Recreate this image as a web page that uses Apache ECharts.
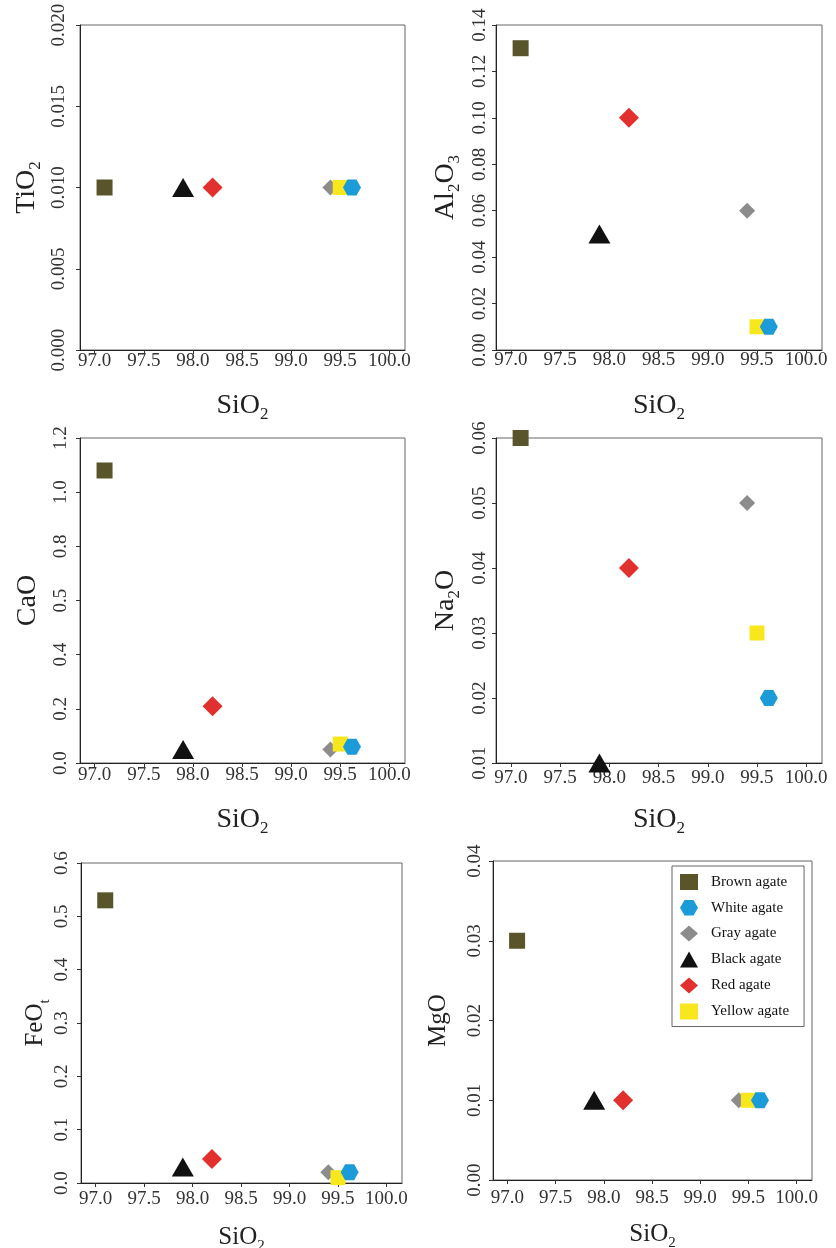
<!DOCTYPE html>
<html>
<head>
<meta charset="utf-8">
<title>Agate major oxides vs SiO2</title>
<script src="https://cdn.jsdelivr.net/npm/echarts@6/dist/echarts.min.js"></script>
<style>
	html, body { margin: 0; padding: 0; background: #fff; }
	#main { width: 836px; height: 1248px; }
</style>
</head>
<body>
<div id="main"></div>
<script>
// samples, same order as the legend
const agates = ['Brown agate', 'White agate', 'Gray agate', 'Black agate', 'Red agate', 'Yellow agate']
const sio2  = [97.1, 99.62, 99.4, 97.9, 98.2, 99.5]
const tio2  = [0.01, 0.01, 0.01, 0.01, 0.01, 0.01]
const al2o3 = [0.13, 0.01, 0.06, 0.05, 0.10, 0.01]
const cao   = [1.08, 0.06, 0.05, 0.05, 0.21, 0.07]
const na2o  = [0.06, 0.02, 0.05, 0.01, 0.04, 0.03]
const feot  = [0.53, 0.02, 0.02, 0.03, 0.045, 0.01]
const mgo   = [0.03, 0.01, 0.01, 0.01, 0.01, 0.01]

// tick values and the labels printed on them
const sio2Ticks   = [97.0, 97.5, 98.0, 98.5, 99.0, 99.5, 100.0]
const tio2Ticks   = [0, 0.005, 0.01, 0.015, 0.02]
const tio2Labels  = ['0.000', '0.005', '0.010', '0.015', '0.020']
const al2o3Ticks  = [0, 0.02, 0.04, 0.06, 0.08, 0.10, 0.12, 0.14]
const al2o3Labels = ['0.00', '0.02', '0.04', '0.06', '0.08', '0.10', '0.12', '0.14']
const caoTicks    = [0, 0.2, 0.4, 0.6, 0.8, 1.0, 1.2]
const caoLabels   = ['0.0', '0.2', '0.4', '0.5', '0.8', '1.0', '1.2'] // "0.5" as printed in the figure
const na2oTicks   = [0.01, 0.02, 0.03, 0.04, 0.05, 0.06]
const na2oLabels  = ['0.01', '0.02', '0.03', '0.04', '0.05', '0.06']
const feotTicks   = [0, 0.1, 0.2, 0.3, 0.4, 0.5, 0.6]
const feotLabels  = ['0.0', '0.1', '0.2', '0.3', '0.4', '0.5', '0.6']
const mgoTicks    = [0, 0.01, 0.02, 0.03, 0.04]
const mgoLabels   = ['0.00', '0.01', '0.02', '0.03', '0.04']

// marker style per sample
const hexagon = 'path://M0,5 L2.9,0 L8.7,0 L11.6,5 L8.7,10 L2.9,10 Z'
const colors  = ['#59542a', '#1b9bd7', '#8c8c8c', '#111111', '#e2302e', '#f8e71c']
const symbols = ['rect', hexagon, 'diamond', 'triangle', 'diamond', 'rect']
const sizes   = [[16, 16], [18, 16], [16, 16], [22, 19], [20, 20], [15, 15]]
const zs      = [2, 6, 3, 2, 2, 4]

const FONT = '"Liberation Serif", "DejaVu Serif", serif'

const panels = [
	{ name: 'TiO{s|2}', vals: tio2, ticks: tio2Ticks, labels: tio2Labels, min: 0, max: 0.02,
	  grid: [80, 25, 325, 325], yMargin: 11, xMargin: 2, nameSize: 28, yGap: 36, xGap: 39 },
	{ name: 'Al{s|2}O{s|3}', vals: al2o3, ticks: al2o3Ticks, labels: al2o3Labels, min: 0, max: 0.14,
	  grid: [496, 25, 326, 325], yMargin: 6, xMargin: 1, nameSize: 28, yGap: 33, xGap: 39 },
	{ name: 'CaO', vals: cao, ticks: caoTicks, labels: caoLabels, min: 0, max: 1.2,
	  grid: [80, 438, 325, 325], yMargin: 9, xMargin: 3, nameSize: 28, yGap: 35, xGap: 40 },
	{ name: 'Na{s|2}O', vals: na2o, ticks: na2oTicks, labels: na2oLabels, min: 0.01, max: 0.06,
	  grid: [496, 438, 326, 325], yMargin: 6, xMargin: 6, nameSize: 28, yGap: 33, xGap: 40 },
	{ name: 'FeO{s|t}', vals: feot, ticks: feotTicks, labels: feotLabels, min: 0, max: 0.6,
	  grid: [81, 863, 321, 320], yMargin: 9, xMargin: 7, nameSize: 25, yGap: 25, xGap: 37 },
	{ name: 'MgO', vals: mgo, ticks: mgoTicks, labels: mgoLabels, min: 0, max: 0.04,
	  grid: [493, 861, 319, 319], yMargin: 8, xMargin: 9, nameSize: 25, yGap: 38, xGap: 37 }
]

function nameStyle(size) {
	return {
		fontFamily: FONT, fontSize: size, color: '#222', lineHeight: 34,
		rich: { s: { fontFamily: FONT, fontSize: Math.round(size * 0.6), color: '#222', verticalAlign: 'bottom' } }
	}
}

let grid = [], xAxis = [], yAxis = [], series = []

panels.forEach((p, k) => {
	grid.push({
		left: p.grid[0], top: p.grid[1], width: p.grid[2], height: p.grid[3],
		outerBoundsMode: 'none', containLabel: false,
		show: true, borderColor: '#666', borderWidth: 1
	})
	xAxis.push({
		gridIndex: k, type: 'value', min: 96.85, max: 100.16,
		name: 'SiO{s|2}', nameLocation: 'middle', nameGap: p.xGap,
		nameTextStyle: nameStyle(p.nameSize),
		axisLine: { lineStyle: { color: '#222', width: 1 } },
		axisTick: { length: 4, customValues: sio2Ticks, lineStyle: { color: '#333' } },
		axisLabel: {
			customValues: sio2Ticks, margin: p.xMargin,
			fontFamily: FONT, fontSize: 19, color: '#333',
			formatter: v => v.toFixed(1)
		},
		splitLine: { show: false }
	})
	yAxis.push({
		gridIndex: k, type: 'value', min: p.min, max: p.max,
		name: p.name, nameLocation: 'middle', nameGap: p.yGap,
		nameTextStyle: nameStyle(p.nameSize),
		axisLine: { show: true, lineStyle: { color: '#222', width: 1 } },
		axisTick: { show: true, length: 4, customValues: p.ticks, lineStyle: { color: '#333' } },
		axisLabel: {
			customValues: p.ticks, rotate: 90, margin: p.yMargin,
			fontFamily: FONT, fontSize: 19, color: '#333',
			formatter: v => {
				let i = p.ticks.findIndex(t => Math.abs(t - v) < 1e-9)
				return i >= 0 ? p.labels[i] : ''
			}
		},
		splitLine: { show: false }
	})
	agates.forEach((a, i) => {
		series.push({
			type: 'scatter', name: a, xAxisIndex: k, yAxisIndex: k,
			data: [[sio2[i], p.vals[i]]],
			symbol: symbols[i], symbolSize: sizes[i],
			itemStyle: { color: colors[i], opacity: 1 },
			z: zs[i], clip: false, silent: true
		})
	})
})

let chart = echarts.init(document.getElementById('main'))
chart.setOption({
	animation: false,
	backgroundColor: '#fff',
	grid: grid,
	xAxis: xAxis,
	yAxis: yAxis,
	legend: {
		data: agates, orient: 'vertical', left: 672, top: 866,
		itemWidth: 18, itemHeight: 16, itemGap: 10,
		padding: [8, 15, 7, 8],
		borderColor: '#666', borderWidth: 1, selectedMode: false,
		textStyle: { fontFamily: FONT, fontSize: 15, color: '#111', padding: [0, 0, 0, 8] }
	},
	series: series
})
</script>
</body>
</html>
